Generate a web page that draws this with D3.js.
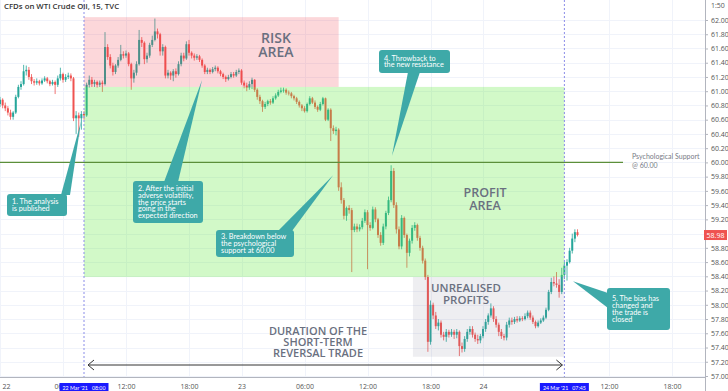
<!DOCTYPE html>
<html><head><meta charset="utf-8">
<script src="https://cdn.jsdelivr.net/npm/d3@7"></script>
<style>
body{margin:0;background:#fff;}
svg{display:block;font-family:"Open Sans",sans-serif;}
</style>
</head><body>
<svg id="c" width="728" height="391"></svg>
<script>
// ---- DATA (15-minute bars, index 0 = 22 Mar 00:00, compressed session time) ----
const open=[60.82,60.88,60.80,60.76,60.70,60.64,60.70,60.92,61.06,61.10,61.28,61.30,61.20,61.14,61.12,61.14,61.11,61.15,61.18,61.14,61.10,61.13,61.09,61.18,61.24,61.16,61.20,61.22,61.18,60.62,60.66,60.62,60.68,60.66,61.09,61.16,61.10,61.13,61.09,61.12,61.10,61.62,61.48,61.36,61.27,61.36,61.44,61.52,61.50,61.53,61.38,61.18,61.26,61.38,61.72,61.68,61.45,61.50,61.65,61.72,61.84,61.80,61.56,61.62,61.22,61.26,61.22,61.28,61.24,61.38,61.50,61.46,61.66,61.54,61.50,61.47,61.49,61.44,61.36,61.27,61.30,61.27,61.31,61.33,61.28,61.24,61.20,61.17,61.20,61.24,61.22,61.27,61.29,61.12,61.08,61.05,61.10,61.16,61.02,60.92,60.86,60.78,60.82,60.86,60.84,60.90,60.94,60.99,61.01,61.02,60.98,60.97,60.93,60.90,60.85,60.80,60.76,60.72,60.82,60.90,60.84,60.78,60.74,60.82,60.90,60.60,60.74,60.48,60.44,60.46,59.65,59.47,59.25,59.36,59.33,59.05,59.10,59.06,59.09,59.18,59.30,59.12,59.08,59.34,59.20,58.98,58.87,59.10,59.29,59.47,59.88,59.40,59.06,58.82,59.22,58.98,58.73,58.90,59.08,59.12,58.94,58.80,58.62,58.39,57.48,58.00,57.85,57.70,57.75,57.58,57.55,57.62,57.58,57.62,57.58,57.62,57.42,57.38,57.52,57.62,57.66,57.58,57.52,57.50,57.56,57.66,57.76,57.85,57.95,57.80,57.72,57.62,57.56,57.54,57.72,57.78,57.76,57.80,57.78,57.81,57.80,57.84,57.89,57.82,57.76,57.70,57.75,57.78,57.82,57.93,58.18,58.32,58.30,58.28,58.18,58.42,58.55,58.60,58.76,58.93,59.02];
const high=[60.92,60.90,60.84,60.79,60.74,60.72,60.95,61.09,61.14,61.37,61.36,61.34,61.24,61.17,61.18,61.16,61.18,61.21,61.20,61.16,61.16,61.15,61.22,61.33,61.26,61.24,61.26,61.25,61.20,60.72,60.70,60.72,60.72,61.12,61.22,61.20,61.16,61.15,61.15,61.15,61.83,61.66,61.52,61.40,61.38,61.48,61.65,61.56,61.57,61.55,61.40,61.30,61.42,61.86,61.76,61.70,61.54,61.68,61.78,62.02,61.88,61.82,61.66,61.64,61.30,61.28,61.31,61.32,61.42,61.54,61.54,61.70,61.72,61.56,61.53,61.52,61.51,61.46,61.38,61.33,61.32,61.34,61.36,61.35,61.30,61.26,61.22,61.23,61.27,61.27,61.30,61.32,61.31,61.15,61.12,61.14,61.19,61.17,61.04,60.95,60.88,60.85,60.88,60.89,60.93,60.97,61.02,61.05,61.05,61.04,61.01,60.99,60.95,60.92,60.87,60.82,60.79,60.84,60.93,60.92,60.87,60.80,60.85,60.92,60.91,60.76,60.76,60.52,60.50,60.48,59.72,59.50,59.38,59.40,59.36,59.14,59.14,59.13,59.22,59.34,59.33,59.16,59.38,59.37,59.22,59.02,59.14,59.32,59.52,59.96,59.92,59.44,59.10,59.26,59.24,59.00,58.93,59.12,59.16,59.14,58.97,58.83,58.65,58.42,58.06,58.03,57.90,57.80,57.78,57.62,57.66,57.65,57.66,57.65,57.66,57.64,57.47,57.56,57.66,57.70,57.70,57.61,57.58,57.59,57.70,57.80,57.88,58.02,57.98,57.84,57.75,57.66,57.59,57.76,57.82,57.82,57.83,57.84,57.84,57.84,57.88,57.92,57.92,57.85,57.78,57.78,57.81,57.85,57.96,58.21,58.38,58.40,58.46,58.36,58.52,58.60,58.64,58.80,59.00,59.06,59.06];
const low=[60.78,60.76,60.72,60.66,60.60,60.60,60.68,60.90,61.02,61.08,61.22,61.16,61.10,61.08,61.09,61.08,61.09,61.13,61.11,61.07,61.08,60.96,61.06,61.15,61.12,61.13,61.17,61.14,60.58,60.40,60.36,60.46,60.60,60.64,61.05,61.06,61.06,61.05,61.06,60.99,61.08,61.44,61.32,61.22,61.24,61.33,61.42,61.46,61.47,61.35,61.02,61.12,61.22,61.36,61.62,61.38,61.40,61.47,61.62,61.70,61.74,61.50,61.50,61.18,61.18,61.16,61.14,61.19,61.22,61.35,61.42,61.44,61.50,61.46,61.43,61.44,61.41,61.33,61.24,61.24,61.24,61.25,61.28,61.25,61.21,61.17,61.13,61.15,61.18,61.19,61.20,61.24,61.09,61.04,61.00,61.02,61.03,60.99,60.88,60.82,60.71,60.75,60.79,60.81,60.82,60.88,60.92,60.97,60.98,60.95,60.94,60.90,60.87,60.82,60.77,60.72,60.70,60.70,60.80,60.82,60.75,60.71,60.72,60.80,60.58,60.58,60.30,60.40,60.38,59.60,59.42,59.20,59.18,59.28,58.46,59.02,59.02,59.03,59.06,59.15,58.50,59.04,59.06,59.16,58.94,58.83,58.84,59.06,59.26,59.44,59.36,59.00,58.78,58.78,58.94,58.52,58.68,58.86,59.04,58.90,58.76,58.58,58.35,57.34,57.44,57.80,57.66,57.64,57.54,57.50,57.48,57.54,57.55,57.52,57.53,57.28,57.33,57.34,57.48,57.58,57.54,57.48,57.45,57.46,57.53,57.62,57.72,57.82,57.76,57.68,57.56,57.52,57.50,57.50,57.68,57.72,57.73,57.75,57.76,57.77,57.78,57.81,57.79,57.73,57.67,57.68,57.73,57.76,57.80,57.91,58.15,58.26,58.24,58.10,58.15,58.36,58.34,58.58,58.72,58.88,58.96];
const close=[60.88,60.80,60.76,60.70,60.64,60.70,60.92,61.06,61.10,61.28,61.30,61.20,61.14,61.12,61.14,61.11,61.15,61.18,61.14,61.10,61.13,61.09,61.18,61.24,61.16,61.20,61.22,61.18,60.62,60.66,60.62,60.68,60.66,61.09,61.16,61.10,61.13,61.09,61.12,61.10,61.62,61.48,61.36,61.27,61.36,61.44,61.52,61.50,61.53,61.38,61.18,61.26,61.38,61.72,61.68,61.45,61.50,61.65,61.72,61.84,61.80,61.56,61.62,61.22,61.26,61.22,61.28,61.24,61.38,61.50,61.46,61.66,61.54,61.50,61.47,61.49,61.44,61.36,61.27,61.30,61.27,61.31,61.33,61.28,61.24,61.20,61.17,61.20,61.24,61.22,61.27,61.29,61.12,61.08,61.05,61.10,61.16,61.02,60.92,60.86,60.78,60.82,60.86,60.84,60.90,60.94,60.99,61.01,61.02,60.98,60.97,60.93,60.90,60.85,60.80,60.76,60.72,60.82,60.90,60.84,60.78,60.74,60.82,60.90,60.60,60.74,60.48,60.44,60.46,59.65,59.47,59.25,59.36,59.33,59.05,59.10,59.06,59.09,59.18,59.30,59.12,59.08,59.34,59.20,58.98,58.87,59.10,59.29,59.47,59.88,59.40,59.06,58.82,59.22,58.98,58.73,58.90,59.08,59.12,58.94,58.80,58.62,58.39,57.48,58.00,57.85,57.70,57.75,57.58,57.55,57.62,57.58,57.62,57.58,57.62,57.42,57.38,57.52,57.62,57.66,57.58,57.52,57.50,57.56,57.66,57.76,57.85,57.95,57.80,57.72,57.62,57.56,57.54,57.72,57.78,57.76,57.80,57.78,57.81,57.80,57.84,57.89,57.82,57.76,57.70,57.75,57.78,57.82,57.93,58.18,58.32,58.30,58.28,58.18,58.42,58.55,58.60,58.76,58.93,59.02,58.98];

const timeTickIdx=[0,24,48,72,92,116,140,164,184,232,256];
const timeTickLabels=["22","06:00","12:00","18:00","23","06:00","12:00","18:00","24","12:00","18:00"];
const markerIdx=[32,215];
const markerLabels=["22 Mar '21\u00a0\u00a0\u00a008:00","24 Mar '21\u00a0\u00a0\u00a007:45"];
const priceTicks=[57.0,57.2,57.4,57.6,57.8,58.0,58.2,58.4,58.6,58.8,59.0,59.2,59.4,59.6,59.8,60.0,60.2,60.4,60.6,60.8,61.0,61.2,61.4,61.6,61.8,62.0];
const supportLevel=60.00;
const lastPrice=58.98;
// zones: [startIdx, endIdx, lowPrice, highPrice]
const riskZone=[32,129,61.06,62.04];
const profitZone=[32,215,58.39,61.06];
const unrealisedZone=[157.3,215,57.27,58.39];

// ---- LAYOUT ----
const W=728,H=391, plotR=705, plotB=377;
const svg=d3.select("#c");
const x=d3.scaleLinear().domain([0,268.57]).range([0,plotR]);
const y=d3.scaleLinear().domain([57,62]).range([376,20]);

// grid
const g=svg.append("g");
g.selectAll(".hg").data(priceTicks).join("line")
 .attr("x1",0).attr("x2",plotR).attr("y1",d=>Math.round(y(d))+0.5).attr("y2",d=>Math.round(y(d))+0.5)
 .attr("stroke","#f0f3fa").attr("stroke-width",1);
g.selectAll(".vg").data(timeTickIdx).join("line")
 .attr("x1",d=>Math.round(x(d))+0.5).attr("x2",d=>Math.round(x(d))+0.5).attr("y1",0).attr("y2",plotB)
 .attr("stroke","#f0f3fa").attr("stroke-width",1);

// candles
const idx=d3.range(close.length);
const up="#26a69a", dn="#ef5350";
const cg=svg.append("g");
cg.selectAll(".w").data(idx).join("line")
 .attr("x1",i=>x(i)).attr("x2",i=>x(i)).attr("y1",i=>y(high[i])).attr("y2",i=>y(low[i]))
 .attr("stroke",i=>close[i]>=open[i]?up:dn).attr("stroke-width",0.8);
cg.selectAll(".b").data(idx).join("rect")
 .attr("x",i=>x(i)-1).attr("width",2)
 .attr("y",i=>y(Math.max(open[i],close[i])))
 .attr("height",i=>Math.max(0.8,Math.abs(y(open[i])-y(close[i]))))
 .attr("fill",i=>close[i]>=open[i]?up:dn);

// zones (drawn over candles, translucent)
function zone(z,fill,op){
  svg.append("rect").attr("x",x(z[0])).attr("width",x(z[1])-x(z[0]))
   .attr("y",y(z[3])).attr("height",y(z[2])-y(z[3])).attr("fill",fill).attr("fill-opacity",op);
}
zone(riskZone,"#f23645",0.2);
zone(profitZone,"#5ee83a",0.28);
zone(unrealisedZone,"#787b96",0.13);

// support line
svg.append("line").attr("x1",0).attr("x2",623).attr("y1",y(supportLevel)).attr("y2",y(supportLevel))
 .attr("stroke","#5b8f3a").attr("stroke-width",1.2);
svg.append("text").attr("x",632).attr("y",y(supportLevel)-3).attr("font-size",7).attr("fill","#787b86").attr("font-family","Lato").text("Psychological Support");
svg.append("text").attr("x",632).attr("y",y(supportLevel)+5.5).attr("font-size",7).attr("fill","#787b86").attr("font-family","Lato").text("@ 60.00");

// vertical dotted markers
svg.selectAll(".vm").data(markerIdx).join("line")
 .attr("x1",d=>x(d)).attr("x2",d=>x(d)).attr("y1",0).attr("y2",plotB)
 .attr("stroke","#8a8de8").attr("stroke-width",1).attr("stroke-dasharray","2,2");

// big labels
function big(lines,cx,y0,fs,lh){
  lines.forEach((l,i)=>svg.append("text").attr("text-anchor","middle").attr("font-size",fs).attr("font-weight",600).attr("fill","#6a7080")
    .attr("x",cx).attr("y",y0+i*lh).text(l));
}
big(["RISK","AREA"],276,43,14,14);
big(["PROFIT","AREA"],485,197,12.5,13);
big(["UNREALISED","PROFITS"],466,292,11.5,12);
big(["DURATION OF THE","SHORT-TERM","REVERSAL TRADE"],318,335,11,11);

// double arrow
const ay=365;
svg.append("line").attr("x1",x(32)+4).attr("x2",x(215)-2).attr("y1",ay).attr("y2",ay).attr("stroke","#333").attr("stroke-width",1);
svg.append("path").attr("d",`M${x(32)+10},${ay-5}L${x(32)+4},${ay}L${x(32)+10},${ay+5}`).attr("fill","none").attr("stroke","#333").attr("stroke-width",1);
svg.append("path").attr("d",`M${x(215)-8},${ay-5}L${x(215)-2},${ay}L${x(215)-8},${ay+5}`).attr("fill","none").attr("stroke","#333").attr("stroke-width",1);

// callouts
const teal="#3ea9a8";
const callouts=[
 {lines:["1. The analysis","is published"],box:[7,194,60,22],base:[[61,195],[70,195]],tip:[30.9,60.58]},
 {lines:["2. After the initial","adverse volatility,","the price starts","going in the","expected direction"],box:[133,181,70,42],base:[[164,182],[178,182]],tip:[77,61.16]},
 {lines:["3. Breakdown below","the psychological","support at 60.00"],box:[216,230,78,27],base:[[278,231],[292,231]],tip:[126.9,59.82]},
 {lines:["4. Throwback to","the new resistance"],box:[379,50,71,23],base:[[408,72],[420,72]],tip:[149.3,60.09]},
 {lines:["5. The bias has","changed and","the trade is","closed"],box:[607,288,63,42],base:[[608,293],[608,308]],tip:[218.3,58.33]}
];
callouts.forEach(c=>{
  const [bx,by,bw,bh]=c.box;
  const tx=x(c.tip[0]), ty=y(c.tip[1]);
  svg.append("path").attr("d",`M${c.base[0][0]},${c.base[0][1]}L${tx},${ty}L${c.base[1][0]},${c.base[1][1]}Z`).attr("fill",teal);
  svg.append("rect").attr("x",bx).attr("y",by).attr("width",bw).attr("height",bh).attr("rx",3).attr("fill",teal);
  const t=svg.append("text").attr("font-size",7.3).attr("fill","#fff").attr("font-family","Lato");
  const n=c.lines.length, lh=6.7;
  const y0=by+bh/2-(n-1)*lh/2+2.5;
  c.lines.forEach((l,i)=>t.append("tspan").attr("x",bx+5).attr("y",y0+i*lh).text(l));
});

// time axis
const xa=svg.append("g").attr("transform",`translate(0,${plotB})`)
 .call(d3.axisBottom(x).tickValues(timeTickIdx).tickFormat((d,i)=>timeTickLabels[i]).tickSize(0).tickPadding(7));
xa.select(".domain").attr("stroke","#b2b5be").attr("d",`M0,0.5H${plotR}`);
xa.selectAll("text").attr("font-size",7).attr("fill","#555").attr("font-family","Open Sans");
xa.selectAll(".tick text").filter((d,i)=>i===0).attr("text-anchor","start").attr("dx",2);
// highlighted markers on time axis
markerIdx.forEach((m,i)=>{
  const cx=x(m);
  svg.append("rect").attr("x",cx-24.5).attr("y",383).attr("width",49).attr("height",10).attr("fill","#1a1aff");
  svg.append("text").attr("x",cx-21.5).attr("y",390).attr("font-size",6).attr("fill","#fff").attr("font-family","Lato")
    .attr("textLength",43).attr("lengthAdjust","spacingAndGlyphs").text(markerLabels[i]);
});

// price axis
const ya=svg.append("g").attr("transform",`translate(${plotR},0)`)
 .call(d3.axisRight(y).tickValues(priceTicks).tickFormat(d3.format(".2f")).tickSize(3).tickPadding(3));
ya.select(".domain").attr("stroke","#b2b5be").attr("d",`M0.5,0V${H}`);
ya.selectAll(".tick line").attr("stroke","#b2b5be");
ya.selectAll("text").attr("font-size",7).attr("fill","#555").attr("font-family","Open Sans");
// the last-price tag covers the nearest tick label
ya.selectAll(".tick text").filter(d=>Math.abs(y(d)-y(lastPrice))<6).attr("display","none");
// last price tag
svg.append("rect").attr("x",plotR-1).attr("y",y(lastPrice)-5).attr("width",23).attr("height",10).attr("fill","#ef5350");
svg.append("text").attr("x",plotR+10.5).attr("y",y(lastPrice)+2.5).attr("text-anchor","middle").attr("font-size",7).attr("fill","#fff").text(lastPrice.toFixed(2));
svg.append("text").attr("x",711).attr("y",8).attr("font-size",7).attr("fill","#555").text("1:50");

// title
svg.append("text").attr("x",4).attr("y",9).attr("font-size",7.8).attr("font-weight",600).attr("fill","#333").text("CFDs on WTI Crude Oil, 15, TVC");
</script>
</body></html>
